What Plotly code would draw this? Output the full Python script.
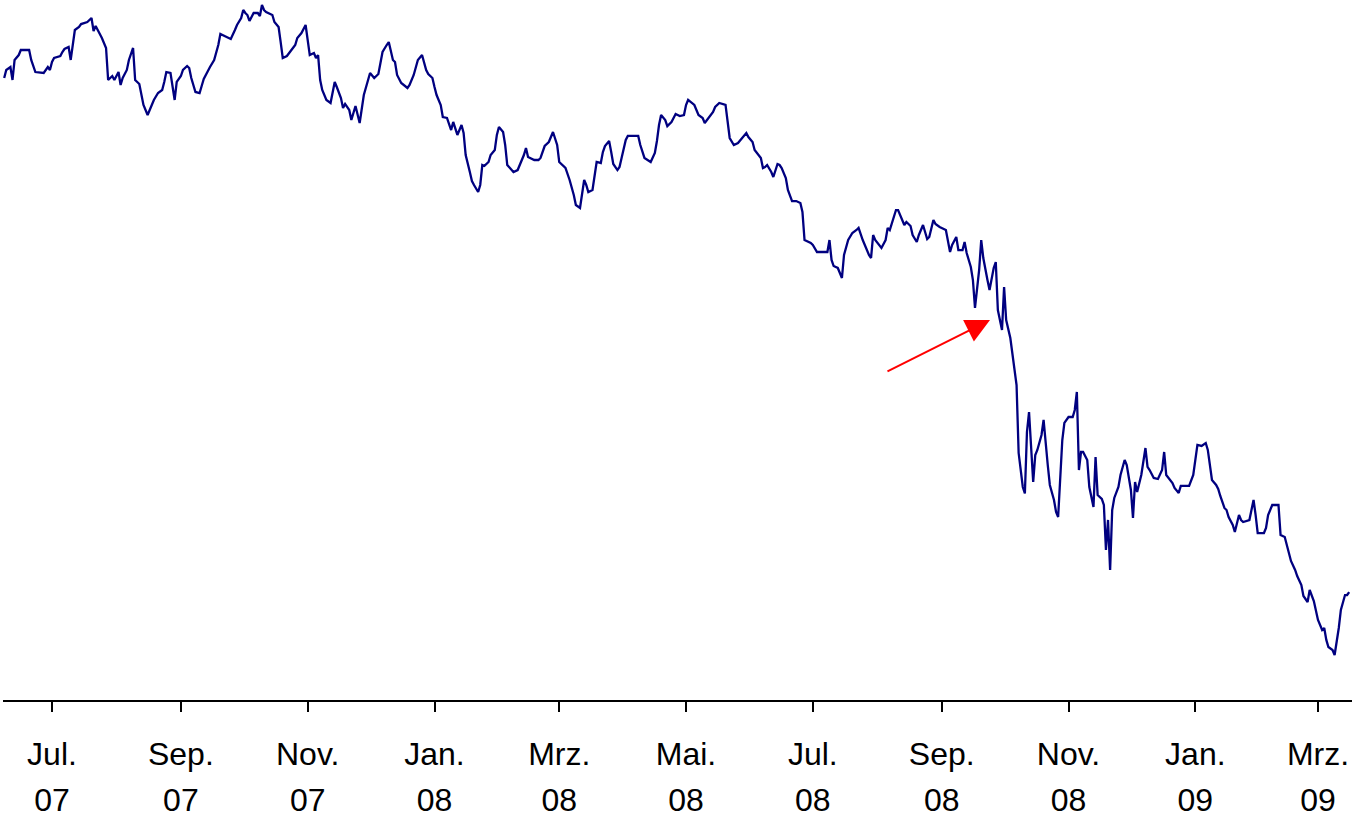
import plotly.graph_objects as go

# Index closing values (no y-axis shown)
dates = [
    "2007-06-08", "2007-06-09", "2007-06-11", "2007-06-12", "2007-06-13", "2007-06-15", "2007-06-16", "2007-06-20", "2007-06-21", "2007-06-23", "2007-06-27", "2007-06-28", "2007-06-29", "2007-06-30",
    "2007-07-01", "2007-07-02", "2007-07-05", "2007-07-06", "2007-07-07", "2007-07-09", "2007-07-10", "2007-07-12", "2007-07-14", "2007-07-15", "2007-07-18", "2007-07-20", "2007-07-21", "2007-07-22", "2007-07-23", "2007-07-25", "2007-07-27", "2007-07-28", "2007-07-29", "2007-07-30", "2007-07-31",
    "2007-08-02", "2007-08-03", "2007-08-04", "2007-08-06", "2007-08-07", "2007-08-09", "2007-08-10", "2007-08-12", "2007-08-14", "2007-08-16", "2007-08-19", "2007-08-21", "2007-08-23", "2007-08-24", "2007-08-25", "2007-08-27", "2007-08-28", "2007-08-29", "2007-08-30",
    "2007-09-01", "2007-09-02", "2007-09-04", "2007-09-05", "2007-09-06", "2007-09-08", "2007-09-10", "2007-09-11", "2007-09-12", "2007-09-15", "2007-09-17", "2007-09-19", "2007-09-20", "2007-09-22", "2007-09-25", "2007-09-27", "2007-09-28", "2007-09-30",
    "2007-10-01", "2007-10-02", "2007-10-03", "2007-10-04", "2007-10-06", "2007-10-08", "2007-10-09", "2007-10-10", "2007-10-11", "2007-10-12", "2007-10-13", "2007-10-15", "2007-10-16", "2007-10-18", "2007-10-19", "2007-10-20", "2007-10-22", "2007-10-24", "2007-10-26", "2007-10-27", "2007-10-29", "2007-10-31",
    "2007-11-01", "2007-11-02", "2007-11-04", "2007-11-05", "2007-11-06", "2007-11-07", "2007-11-08", "2007-11-10", "2007-11-12", "2007-11-14", "2007-11-15", "2007-11-17", "2007-11-18", "2007-11-19", "2007-11-21", "2007-11-22", "2007-11-24", "2007-11-25", "2007-11-26", "2007-11-28", "2007-11-30",
    "2007-12-01", "2007-12-03", "2007-12-05", "2007-12-06", "2007-12-07", "2007-12-09", "2007-12-10", "2007-12-12", "2007-12-13", "2007-12-14", "2007-12-16", "2007-12-19", "2007-12-20", "2007-12-22", "2007-12-23", "2007-12-24", "2007-12-26", "2007-12-28", "2007-12-29", "2007-12-31",
    "2008-01-01", "2008-01-02", "2008-01-04", "2008-01-05", "2008-01-07", "2008-01-08", "2008-01-09", "2008-01-10", "2008-01-12", "2008-01-13", "2008-01-14", "2008-01-15", "2008-01-16", "2008-01-18", "2008-01-19", "2008-01-20", "2008-01-22", "2008-01-23", "2008-01-24", "2008-01-25", "2008-01-27", "2008-01-28", "2008-01-30", "2008-01-31",
    "2008-02-01", "2008-02-03", "2008-02-04", "2008-02-05", "2008-02-08", "2008-02-10", "2008-02-11", "2008-02-13", "2008-02-14", "2008-02-15", "2008-02-18", "2008-02-20", "2008-02-21", "2008-02-22", "2008-02-23", "2008-02-25", "2008-02-27", "2008-02-29",
    "2008-03-01", "2008-03-04", "2008-03-06", "2008-03-08", "2008-03-09", "2008-03-11", "2008-03-12", "2008-03-13", "2008-03-14", "2008-03-15", "2008-03-17", "2008-03-18", "2008-03-19", "2008-03-21", "2008-03-22", "2008-03-23", "2008-03-25", "2008-03-26", "2008-03-27", "2008-03-29", "2008-03-30", "2008-03-31",
    "2008-04-02", "2008-04-03", "2008-04-08", "2008-04-09", "2008-04-11", "2008-04-14", "2008-04-16", "2008-04-17", "2008-04-18", "2008-04-19", "2008-04-21", "2008-04-22", "2008-04-24", "2008-04-26", "2008-04-28", "2008-04-30",
    "2008-05-01", "2008-05-02", "2008-05-04", "2008-05-05", "2008-05-07", "2008-05-09", "2008-05-10", "2008-05-12", "2008-05-14", "2008-05-15", "2008-05-17", "2008-05-20", "2008-05-21", "2008-05-22", "2008-05-24", "2008-05-26", "2008-05-28", "2008-05-30", "2008-05-31",
    "2008-06-02", "2008-06-03", "2008-06-05", "2008-06-06", "2008-06-07", "2008-06-08", "2008-06-09", "2008-06-11", "2008-06-12", "2008-06-14", "2008-06-15", "2008-06-16", "2008-06-18", "2008-06-19", "2008-06-21", "2008-06-23", "2008-06-25", "2008-06-26", "2008-06-27", "2008-06-30",
    "2008-07-01", "2008-07-03", "2008-07-05", "2008-07-08", "2008-07-09", "2008-07-10", "2008-07-11", "2008-07-13", "2008-07-15", "2008-07-16", "2008-07-18", "2008-07-20", "2008-07-22", "2008-07-23", "2008-07-25", "2008-07-26", "2008-07-28", "2008-07-29", "2008-07-30", "2008-07-31",
    "2008-08-03", "2008-08-05", "2008-08-06", "2008-08-07", "2008-08-09", "2008-08-10", "2008-08-11", "2008-08-13", "2008-08-14", "2008-08-15", "2008-08-17", "2008-08-18", "2008-08-20", "2008-08-21", "2008-08-23", "2008-08-24", "2008-08-25", "2008-08-26", "2008-08-28", "2008-08-29", "2008-08-31",
    "2008-09-03", "2008-09-04", "2008-09-05", "2008-09-06", "2008-09-08", "2008-09-09", "2008-09-11", "2008-09-12", "2008-09-13", "2008-09-15", "2008-09-16", "2008-09-17", "2008-09-19", "2008-09-20", "2008-09-21", "2008-09-23", "2008-09-24", "2008-09-26", "2008-09-27", "2008-09-28", "2008-09-30",
    "2008-10-01", "2008-10-02", "2008-10-04", "2008-10-05", "2008-10-07", "2008-10-08", "2008-10-10", "2008-10-11", "2008-10-12", "2008-10-13", "2008-10-15", "2008-10-16", "2008-10-17", "2008-10-19", "2008-10-20", "2008-10-22", "2008-10-23", "2008-10-25", "2008-10-26", "2008-10-27", "2008-10-28", "2008-10-29", "2008-10-30",
    "2008-11-01", "2008-11-03", "2008-11-04", "2008-11-05", "2008-11-06", "2008-11-07", "2008-11-08", "2008-11-10", "2008-11-11", "2008-11-13", "2008-11-14", "2008-11-15", "2008-11-17", "2008-11-18", "2008-11-19", "2008-11-20", "2008-11-21", "2008-11-22", "2008-11-23", "2008-11-25", "2008-11-26", "2008-11-28", "2008-11-29",
    "2008-12-01", "2008-12-02", "2008-12-03", "2008-12-04", "2008-12-06", "2008-12-07", "2008-12-08", "2008-12-09", "2008-12-10", "2008-12-12", "2008-12-14", "2008-12-16", "2008-12-17", "2008-12-18", "2008-12-20", "2008-12-21", "2008-12-22", "2008-12-24", "2008-12-25", "2008-12-29", "2008-12-31",
    "2009-01-01", "2009-01-02", "2009-01-04", "2009-01-06", "2009-01-07", "2009-01-08", "2009-01-09", "2009-01-11", "2009-01-12", "2009-01-13", "2009-01-15", "2009-01-16", "2009-01-17", "2009-01-19", "2009-01-20", "2009-01-22", "2009-01-23", "2009-01-24", "2009-01-27", "2009-01-28", "2009-01-29", "2009-01-30", "2009-01-31",
    "2009-02-03", "2009-02-04", "2009-02-05", "2009-02-07", "2009-02-10", "2009-02-11", "2009-02-13", "2009-02-14", "2009-02-15", "2009-02-16", "2009-02-18", "2009-02-19", "2009-02-21", "2009-02-22", "2009-02-24", "2009-02-25", "2009-02-27", "2009-02-28",
    "2009-03-01", "2009-03-03", "2009-03-04", "2009-03-05", "2009-03-06", "2009-03-08", "2009-03-09", "2009-03-11", "2009-03-12", "2009-03-14", "2009-03-15", "2009-03-16",
]

values = [
    13340, 13435, 13470, 13317, 13553, 13611, 13670, 13670, 13553, 13411, 13400, 13435, 13470, 13435,
    13530, 13576, 13600, 13647, 13682, 13706, 13553, 13906, 13941, 13976, 14000, 14047, 13894, 13953, 13906, 13812, 13694, 13317, 13341, 13364, 13317,
    13411, 13258, 13341, 13435, 13553, 13694, 13317, 13270, 13023, 12905, 13082, 13164, 13199, 13294, 13411, 13400, 13258, 13082, 13294,
    13364, 13435, 13482, 13458, 13341, 13176, 13164, 13246, 13329, 13470, 13553, 13729, 13859, 13835, 13800, 13906, 13965, 14047,
    14141, 14106, 14082, 14012, 14106, 14106, 14071, 14200, 14141, 14118, 14106, 14082, 14000, 13941, 13764, 13576, 13600, 13670, 13729, 13812, 13870, 13965,
    13788, 13611, 13635, 13576, 13611, 13317, 13199, 13082, 13046, 13294, 13235, 13105, 12987, 13035, 12964, 12846, 13011, 12905, 12811, 13140, 13317,
    13400, 13341, 13388, 13517, 13647, 13729, 13764, 13553, 13529, 13376, 13282, 13223, 13258, 13376, 13470, 13553, 13611, 13435, 13388, 13341,
    13235, 13140, 13023, 12881, 12870, 12787, 12728, 12823, 12670, 12728, 12787, 12693, 12434, 12234, 12128, 12081, 11998, 12081, 12316, 12305, 12352, 12434, 12493, 12670,
    12764, 12705, 12552, 12316, 12234, 12257, 12316, 12434, 12516, 12410, 12375, 12375, 12399, 12458, 12540, 12587, 12705, 12552,
    12352, 12281, 12140, 11963, 11845, 11810, 11987, 12140, 12081, 11998, 12022, 12163, 12352, 12340, 12469, 12540, 12599, 12469, 12328, 12257, 12293, 12399,
    12611, 12658, 12658, 12552, 12399, 12352, 12458, 12599, 12787, 12905, 12846, 12775, 12823, 12917, 12893, 12905,
    13023, 13082, 13046, 13023, 12905, 12870, 12811, 12881, 12940, 12999, 13046, 13023, 12787, 12634, 12552, 12575, 12634, 12693, 12646,
    12587, 12493, 12434, 12399, 12281, 12293, 12316, 12234, 12175, 12328, 12316, 12281, 12163, 12022, 11892, 11892, 11869, 11763, 11433, 11398,
    11374, 11292, 11292, 11292, 11433, 11198, 11127, 11104, 10986, 11257, 11433, 11516, 11551, 11575, 11433, 11374, 11257, 11221, 11492, 11433,
    11339, 11433, 11575, 11551, 11692, 11786, 11786, 11669, 11610, 11645, 11598, 11492, 11410, 11492, 11610, 11527, 11445, 11469, 11669, 11622, 11586,
    11551, 11433, 11292, 11374, 11469, 11315, 11315, 11410, 11280, 11115, 10962, 10633, 11080, 11433, 11221, 10962, 10845, 11104, 11174, 10609, 10374,
    10880, 10491, 10279, 10079, 9726, 8925, 8525, 8450, 9173, 9408, 8584, 8902, 8961, 9137, 9314, 8784, 8549, 8372, 8231, 8172, 8643, 9078, 9279,
    9349, 9349, 9432, 9644, 8725, 8937, 8937, 8843, 8525, 8290, 8878, 8431, 8384, 8313, 7783, 8137, 7548, 8254, 8396, 8525, 8666, 8843, 8784,
    8490, 8160, 8584, 8466, 8666, 8843, 8984, 8761, 8725, 8631, 8619, 8725, 8937, 8666, 8596, 8572, 8513, 8455, 8537, 8537, 8666,
    8843, 9020, 9008, 9043, 8961, 8784, 8607, 8549, 8501, 8419, 8278, 8254, 8172, 8078, 7995, 8195, 8136, 8113, 8136, 8254, 8372, 8195, 7983,
    7983, 8042, 8195, 8313, 8313, 7960, 7936, 7842, 7748, 7654, 7548, 7477, 7371, 7242, 7171, 7312, 7183, 7077,
    6959, 6841, 6865, 6724, 6641, 6606, 6547, 6865, 7077, 7253, 7253, 7288,
]

tick_dates = ["2007-07-01", "2007-09-01", "2007-11-01", "2008-01-01", "2008-03-01", "2008-05-01",
              "2008-07-01", "2008-09-01", "2008-11-01", "2009-01-01", "2009-03-01"]
month_labels = ["Jul.", "Sep.", "Nov.", "Jan.", "Mrz.", "Mai.", "Jul.", "Sep.", "Nov.", "Jan.", "Mrz."]
year_labels = ["07", "07", "07", "08", "08", "08", "08", "08", "08", "09", "09"]

x_range = ["2007-06-07 10:19", "2009-03-17 08:38"]
y_range = [6017, 14259]

arrow_tip_date = "2008-09-24 05:00"
arrow_tip_value = 10491

label_font = dict(family="Liberation Sans, Arial, sans-serif", size=32, color="black")

fig = go.Figure()
fig.add_trace(go.Scatter(
    x=dates, y=values, mode="lines",
    line=dict(color="#000080", width=2.3),
    hoverinfo="skip", showlegend=False,
))
# empty trace so the second (year-row) axis is drawn
fig.add_trace(go.Scatter(x=[], y=[], xaxis="x2", yaxis="y", showlegend=False, hoverinfo="skip"))

fig.add_annotation(
    x=arrow_tip_date, y=arrow_tip_value, xref="x", yref="y",
    ax=-104, ay=52, axref="pixel", ayref="pixel",
    text="", showarrow=True,
    arrowhead=2, arrowsize=2.4, arrowwidth=2, arrowcolor="#ff0000",
    standoff=0,
)

fig.update_layout(
    width=1352, height=822, autosize=False,
    margin=dict(l=3, r=0, t=0, b=122, pad=0),
    paper_bgcolor="white", plot_bgcolor="white",
    showlegend=False,
    font=label_font,
    xaxis=dict(
        type="date", range=x_range,
        tickmode="array", tickvals=tick_dates, ticktext=month_labels,
        showline=True, linecolor="black", linewidth=2,
        ticks="outside", ticklen=10, tickwidth=2, tickcolor="black",
        showgrid=False, zeroline=False,
        tickfont=label_font, ticklabelstandoff=15, ticklabeloverflow="allow",
    ),
    xaxis2=dict(
        type="date", range=x_range, overlaying="x", anchor="y", side="bottom", matches="x",
        tickmode="array", tickvals=tick_dates, ticktext=year_labels,
        showline=False, ticks="", showgrid=False, zeroline=False,
        tickfont=label_font, ticklabelstandoff=78, ticklabeloverflow="allow",
    ),
    yaxis=dict(range=y_range, visible=False, showgrid=False, zeroline=False),
)

fig.write_html("out.html", config={"displayModeBar": False},
               post_script="document.body.style.margin='0';")
